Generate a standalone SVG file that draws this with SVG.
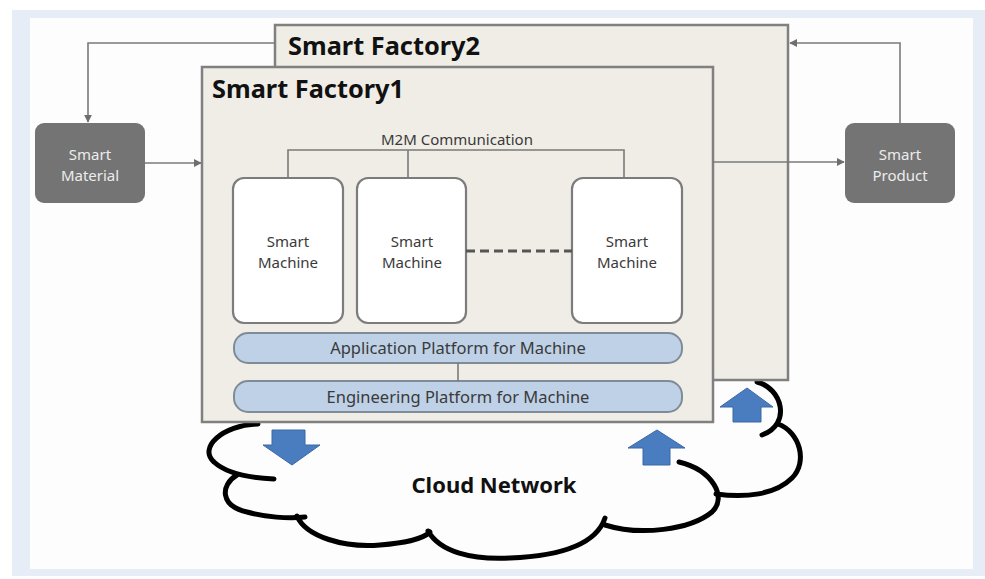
<svg xmlns="http://www.w3.org/2000/svg" width="985" height="579" viewBox="0 0 985 579">
  <defs>
    <marker id="arr" viewBox="0 0 10 10" refX="9" refY="5" markerWidth="8" markerHeight="8" markerUnits="userSpaceOnUse" orient="auto">
      <path d="M0,0 L10,5 L0,10 Z" fill="#6e6e6e"/>
    </marker>
  </defs>
  <style>
    .frame { fill: #efede6; stroke: #808080; stroke-width: 2.5; }
    .title { font-family: "Noto Sans", "Open Sans", sans-serif; font-weight: bold; font-size: 25px; fill: #111; }
    .dark { fill: #747474; }
    .dark-text { font-family: "Noto Sans", "Open Sans", sans-serif; font-size: 15px; fill: #ececec; text-anchor: middle; }
    .machine { fill: #ffffff; stroke: #7c7c7c; stroke-width: 2.2; }
    .label { font-family: "Noto Sans", "Open Sans", sans-serif; font-size: 15px; fill: #3a3a3a; text-anchor: middle; }
    .plabel { font-family: "Noto Sans", "Open Sans", sans-serif; font-size: 16.5px; fill: #3a3a3a; text-anchor: middle; }
    .platform { fill: #bed1e7; stroke: #808b98; stroke-width: 2; }
    .conn { fill: none; stroke: #7a7a7a; stroke-width: 1.6; }
    .cloud { fill: none; stroke: #000; stroke-width: 5; stroke-linecap: round; }
    .bluearrow { fill: #4a7dbf; stroke: #3b69a6; stroke-width: 1; }
  </style>

  <!-- page background -->
  <rect x="0" y="0" width="985" height="579" fill="#ffffff"/>
  <rect x="12" y="10" width="973" height="566" fill="#e7edf7"/>
  <rect x="30" y="18" width="943" height="551" fill="#fdfdfd"/>

  <!-- cloud -->
  <g id="cloud">
    <path class="cloud" d="M258,424 C222,425 198,448 214,462 C226,473 250,478 274,479"/>
    <path class="cloud" d="M237,475 C220,485 220,506 247,512 C265,517 288,519 305,517"/>
    <path class="cloud" d="M297,516 C306,537 345,548 380,545 C403,543 422,540 430,532"/>
    <path class="cloud" d="M428,531 C440,552 472,560 510,558 C560,556 596,545 605,518"/>
    <path class="cloud" d="M605,525 C640,536 690,530 712,512 C728,497 712,470 679,462"/>
    <path class="cloud" d="M757,382 C782,388 792,424 762,435"/>
    <path class="cloud" d="M778,424 C800,432 808,462 792,478 C775,495 745,498 716,494"/>
    <text x="494" y="493" font-family="Noto Sans, Open Sans, sans-serif" font-weight="bold" font-size="22" fill="#111" text-anchor="middle">Cloud Network</text>
  </g>

  <!-- Smart Factory2 (back frame) -->
  <g id="factory2">
    <rect class="frame" x="275" y="25" width="513" height="355"/>
    <text class="title" x="288" y="55" textLength="192" lengthAdjust="spacingAndGlyphs">Smart Factory2</text>
  </g>

  <!-- Smart Factory1 (front frame) -->
  <g id="factory1">
    <rect class="frame" x="202" y="67" width="511" height="355"/>
    <text class="title" x="212" y="98" textLength="192" lengthAdjust="spacingAndGlyphs">Smart Factory1</text>
  </g>

  <!-- material / product nodes -->
  <g id="smart-material">
    <rect class="dark" x="35" y="123" width="110" height="80" rx="9"/>
    <text class="dark-text" x="90" y="160">Smart</text>
    <text class="dark-text" x="90" y="181">Material</text>
  </g>
  <g id="smart-product">
    <rect class="dark" x="845" y="123" width="110" height="80" rx="9"/>
    <text class="dark-text" x="900" y="160">Smart</text>
    <text class="dark-text" x="900" y="181">Product</text>
  </g>

  <!-- machines -->
  <g id="machine1">
    <rect class="machine" x="233" y="178" width="110" height="145" rx="11"/>
    <text class="label" x="288" y="247">Smart</text>
    <text class="label" x="288" y="268">Machine</text>
  </g>
  <g id="machine2">
    <rect class="machine" x="357" y="178" width="109" height="145" rx="11"/>
    <text class="label" x="412" y="247">Smart</text>
    <text class="label" x="412" y="268">Machine</text>
  </g>
  <g id="machine3">
    <rect class="machine" x="572" y="178" width="110" height="145" rx="11"/>
    <text class="label" x="627" y="247">Smart</text>
    <text class="label" x="627" y="268">Machine</text>
  </g>

  <!-- platforms -->
  <g id="app-platform">
    <rect class="platform" x="234" y="333" width="448" height="30" rx="14"/>
    <text class="plabel" x="458" y="354">Application Platform for Machine</text>
  </g>
  <g id="eng-platform">
    <rect class="platform" x="234" y="381" width="448" height="31" rx="14"/>
    <text class="plabel" x="458" y="403">Engineering Platform for Machine</text>
  </g>

  <!-- M2M label -->
  <g id="m2m">
    <text class="label" x="457" y="145">M2M Communication</text>
  </g>

  <!-- connectors -->
  <g id="connectors">
    <path class="conn" d="M288,178 V150 H624 V178 M408,150 V178"/>
    <line x1="466" y1="251" x2="572" y2="251" stroke="#555" stroke-width="3" stroke-dasharray="9,5"/>
    <line class="conn" x1="458" y1="363" x2="458" y2="381"/>
    <line class="conn" x1="145" y1="163" x2="201" y2="163" marker-end="url(#arr)"/>
    <path class="conn" d="M275,43 H88 V122" marker-end="url(#arr)"/>
    <line class="conn" x1="713" y1="162" x2="844" y2="162" marker-end="url(#arr)"/>
    <path class="conn" d="M900,123 V43 H790" marker-end="url(#arr)"/>
  </g>

  <!-- data flow arrows between factories and cloud -->
  <g id="flow-arrows">
    <polygon class="bluearrow" points="272,430 305,430 305,445 320,445 292,465 263,445 272,445"/>
    <polygon class="bluearrow" points="657,430 685,448 670,448 670,465 643,465 643,448 628,448"/>
    <polygon class="bluearrow" points="747,388 773,407 761,407 761,422 733,422 733,407 720,407"/>
  </g>
</svg>
